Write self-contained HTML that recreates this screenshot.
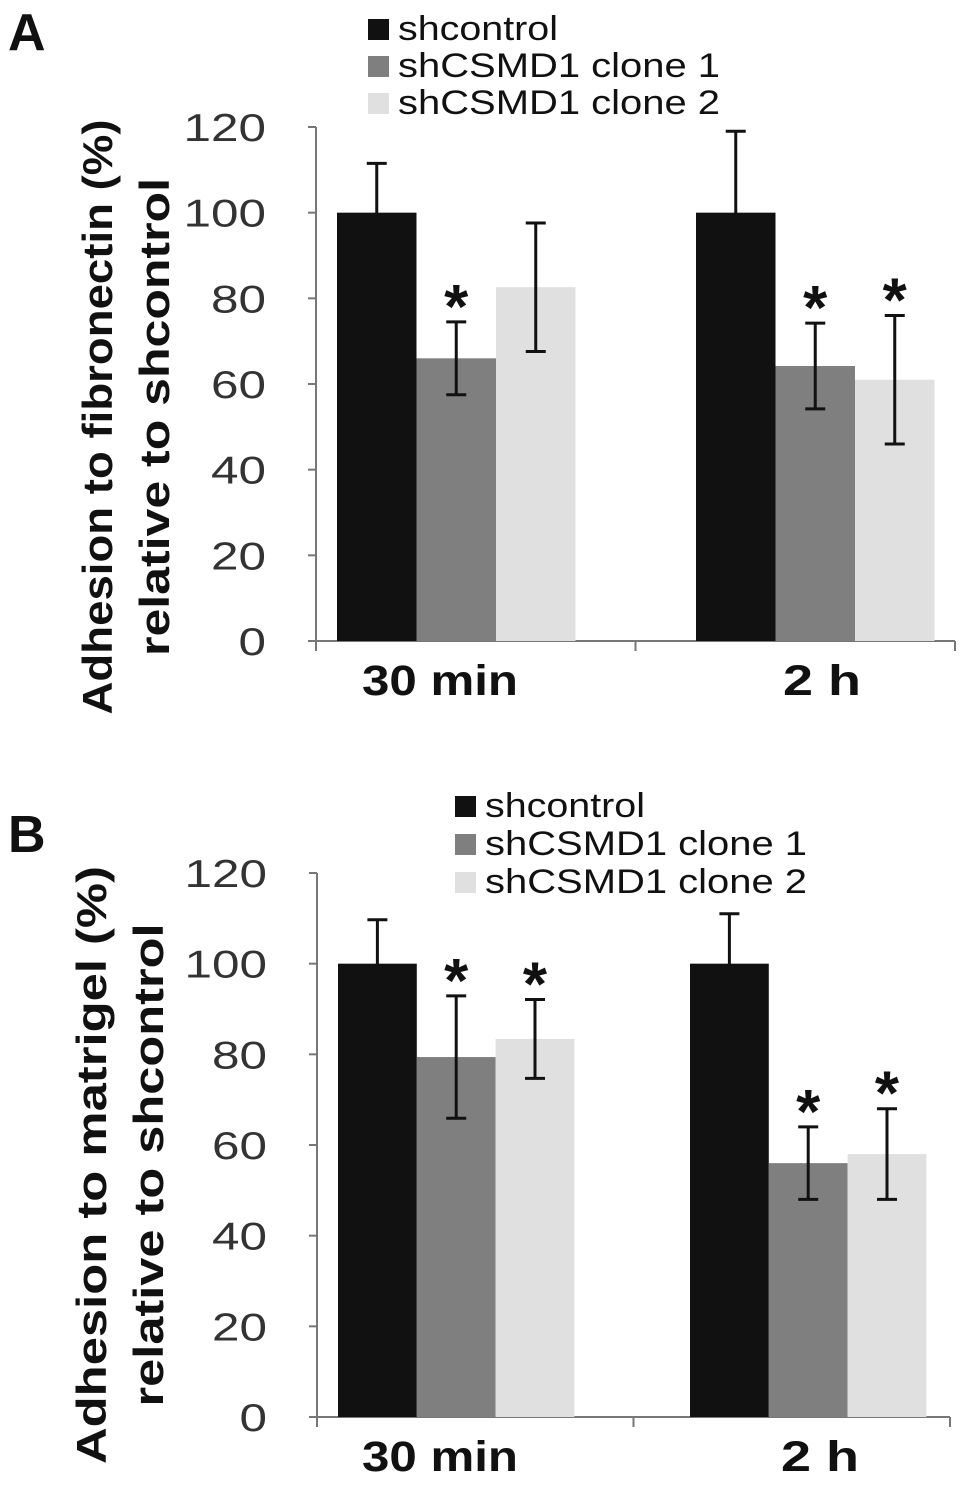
<!DOCTYPE html>
<html><head><meta charset="utf-8"><style>
html,body{margin:0;padding:0;background:#fff}
svg{display:block}
text{font-family:"Liberation Sans",sans-serif}
</style></head><body>
<svg id="fig" width="969" height="1496" viewBox="0 0 969 1496"></svg>
<script>
const categories=["30 min","2 h"];
const seriesNames=["shcontrol","shCSMD1 clone 1","shCSMD1 clone 2"];
const colors=["#111111","#7f7f7f","#e0e0e0"];
const yTicks=[0,20,40,60,80,100,120];
const aValues=[[100,100],[66,64.2],[82.6,61]];
const aErrors=[[11.5,19],[8.5,10],[15,15]];
const aStars=[[false,false],[true,true],[false,true]];
const bValues=[[100,100],[79.4,56],[83.4,58]];
const bErrors=[[9.7,11],[13.5,8],[8.7,10]];
const bStars=[[false,false],[true,true],[true,true]];
const NS="http://www.w3.org/2000/svg";
const svg=document.getElementById('fig');
function el(tag,attrs,parent){const e=document.createElementNS(NS,tag);for(const k in attrs)e.setAttribute(k,attrs[k]);(parent||svg).appendChild(e);return e;}
const legLens=[160,322,322];
function panel(cfg){
  const g=el('g',{});
  
  
  const y=v=>cfg.y0-(cfg.y0-cfg.y120)*v/120;
  const lt=el('text',{x:cfg.letterX,y:cfg.letterY,'font-size':52,'font-weight':'bold',fill:'#111'},g);lt.textContent=cfg.letter;
  
  
  seriesNames.forEach((n,i)=>{
    const ly=cfg.legY+i*cfg.legStep;
    const r=el('rect',{x:cfg.legX,y:ly-21,width:21,height:21,fill:colors[i]},g);
    
    
    const t=el('text',{x:cfg.legX+30,y:ly,'font-size':34,fill:'#111',textLength:legLens[i],lengthAdjust:'spacingAndGlyphs'},g);t.textContent=n;
    
    
  });
  const ax=el('line',{x1:cfg.axX,y1:cfg.y120,x2:cfg.axX,y2:cfg.y0,stroke:'#777','stroke-width':2},g);
  
  
  const xa=el('line',{x1:cfg.axX,y1:cfg.y0,x2:cfg.axEnd,y2:cfg.y0,stroke:'#777','stroke-width':2},g);
  
  
  [cfg.axX,(cfg.axX+cfg.axEnd)/2,cfg.axEnd].forEach(x=>el('line',{x1:x,y1:cfg.y0,x2:x,y2:cfg.y0+10,stroke:'#777','stroke-width':2},g));
  yTicks.forEach(v=>{
    el('line',{x1:cfg.axX-8,y1:y(v),x2:cfg.axX,y2:y(v),stroke:'#777','stroke-width':2},g);
    const s=String(v);
    const t=el('text',{x:cfg.axX-50,y:y(v)+14,'font-size':39,'text-anchor':'end',fill:'#333',textLength:s.length*27.5,lengthAdjust:'spacingAndGlyphs'},g);t.textContent=s;
    
    
  });
  const bw=cfg.bw;
  categories.forEach((c,ci)=>{
    const gx=cfg.groupX[ci];
    const ct=el('text',{x:cfg.labX[ci],y:cfg.y0+54,'font-size':43,'font-weight':'bold','text-anchor':'middle',fill:'#111',textLength:c.length*26,lengthAdjust:'spacingAndGlyphs'},g);ct.textContent=c;
    
    
    for(let s=0;s<3;s++){
      const v=cfg.values[s][ci],e=cfg.errors[s][ci];
      const bx=gx+s*bw;
      const r=el('rect',{x:bx,y:y(v),width:bw,height:cfg.y0-y(v),fill:colors[s]},g);
      
      
      const cx=bx+bw/2;
      const eg=el('g',{stroke:'#111','stroke-width':3},g);
      
      
      el('line',{x1:cx,y1:y(v+e),x2:cx,y2:y(v-e)},eg);
      el('line',{x1:cx-10,y1:y(v+e),x2:cx+10,y2:y(v+e)},eg);
      el('line',{x1:cx-10,y1:y(v-e),x2:cx+10,y2:y(v-e)},eg);
      if(cfg.stars[s][ci]){
        const st=el('text',{x:cx,y:y(v+e)+6,'font-size':62,'font-weight':'bold','text-anchor':'middle',fill:'#111'},g);st.textContent='*';
        
        
      }
    }
  });
  const ty=el('text',{transform:`translate(${cfg.titleX},${cfg.titleY}) rotate(-90)`,'font-size':42,'font-weight':'bold','text-anchor':'middle',fill:'#111'},g);
  
  
  const t1=el('tspan',{x:0,dy:0,textLength:cfg.len1,lengthAdjust:'spacingAndGlyphs'},ty);t1.textContent=cfg.title1;
  const t2=el('tspan',{x:0,dy:57,textLength:cfg.len2,lengthAdjust:'spacingAndGlyphs'},ty);t2.textContent='relative to shcontrol';
}
panel({letter:'A',letterX:8,letterY:50,legX:368,legY:40,legStep:37,axX:316,axEnd:955,y0:641,y120:127,bw:79.5,groupX:[337,696],labX:[440,822],
  values:aValues,errors:aErrors,stars:aStars,titleX:112,titleY:417,len1:595,len2:478,title1:'Adhesion to fibronectin (%)'});
panel({letter:'B',letterX:8,letterY:852,legX:455,legY:817,legStep:38,axX:317,axEnd:950,y0:1417,y120:873,bw:78.8,groupX:[338,690],labX:[440,820],
  values:bValues,errors:bErrors,stars:bStars,titleX:106,titleY:1165,len1:598,len2:483,title1:'Adhesion to matrigel (%)'});
</script>
</body></html>
